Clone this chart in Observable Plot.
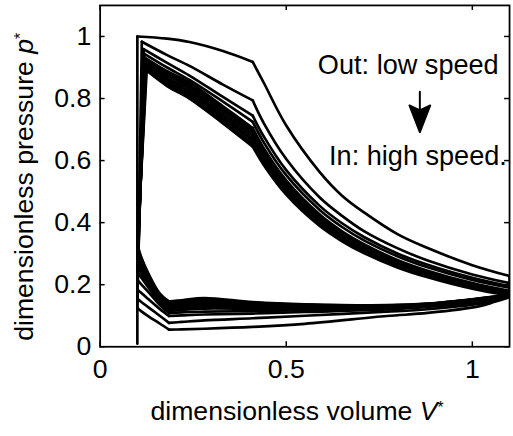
<!DOCTYPE html>
<html><head><meta charset="utf-8">
<script src="https://cdn.jsdelivr.net/npm/d3@7"></script>
<script src="https://cdn.jsdelivr.net/npm/@observablehq/plot@0.6"></script>
<style>
html,body{margin:0;padding:0;background:#fff;overflow:hidden;}
#chart{width:513px;height:436px;overflow:hidden;}
svg{display:block;}
</style></head><body><div id="chart"></div>
<script>
// ---- data ----
const cycles = ["L1","L2","L3","L4","B1","B2","B3","B4","B5","B6","B7","B8"];
// rise from V = 0.1 up to the peak
const startP = [0.01, 0.125, 0.155, 0.185, 0.215, 0.24, 0.258, 0.275, 0.29, 0.303, 0.316, 0.325];
const peakV  = [0.1, 0.112, 0.117, 0.118, 0.12, 0.121, 0.121, 0.122, 0.123, 0.123, 0.124, 0.125];
const peakP  = [1.0, 0.983, 0.959, 0.945, 0.932, 0.926, 0.92, 0.913, 0.907, 0.90, 0.895, 0.89];
// top branch, peak -> kink
const topV = [0.18, 0.24, 0.33, 0.41];
const topP = [
  [0.993, 0.982, 0.953, 0.918],
  [0.94, 0.905, 0.845, 0.794],
  [0.915, 0.874, 0.805, 0.745],
  [0.90, 0.86, 0.79, 0.725],
  [0.888, 0.852, 0.775, 0.705],
  [0.881, 0.845, 0.767, 0.697],
  [0.874, 0.838, 0.759, 0.689],
  [0.866, 0.830, 0.750, 0.680],
  [0.859, 0.822, 0.742, 0.671],
  [0.852, 0.815, 0.735, 0.663],
  [0.846, 0.808, 0.727, 0.654],
  [0.840, 0.800, 0.720, 0.645]
];
// expansion branch, kink -> right end
const expV = [0.41, 0.44, 0.5, 0.59, 0.65, 0.71, 0.8, 0.88, 1.0, 1.1];
const expP = [
  [0.918, 0.85, 0.713, 0.563, 0.487, 0.432, 0.362, 0.318, 0.263, 0.228],
  [0.794, 0.72, 0.605, 0.481, 0.422, 0.372, 0.317, 0.278, 0.233, 0.205],
  [0.745, 0.677, 0.569, 0.454, 0.398, 0.353, 0.300, 0.264, 0.222, 0.195],
  [0.725, 0.658, 0.553, 0.441, 0.386, 0.342, 0.291, 0.256, 0.215, 0.19],
  [0.705, 0.639, 0.536, 0.426, 0.372, 0.330, 0.279, 0.245, 0.205, 0.180],
  [0.697, 0.632, 0.530, 0.421, 0.368, 0.326, 0.276, 0.242, 0.203, 0.178],
  [0.689, 0.624, 0.524, 0.416, 0.364, 0.323, 0.273, 0.239, 0.200, 0.176],
  [0.680, 0.616, 0.517, 0.411, 0.359, 0.318, 0.269, 0.236, 0.198, 0.174],
  [0.671, 0.608, 0.510, 0.405, 0.354, 0.314, 0.266, 0.233, 0.195, 0.171],
  [0.663, 0.601, 0.504, 0.401, 0.350, 0.310, 0.262, 0.230, 0.193, 0.169],
  [0.654, 0.593, 0.497, 0.395, 0.345, 0.306, 0.259, 0.227, 0.190, 0.167],
  [0.645, 0.585, 0.490, 0.389, 0.340, 0.301, 0.255, 0.224, 0.187, 0.165]
];
// lower branch, right end -> lower kink
const lowV = [1.1, 1.06, 1.02, 0.88, 0.77, 0.55, 0.41, 0.28, 0.22, 0.185];
const lowP = [
  [0.16, 0.145, 0.131, 0.109, 0.099, 0.074, 0.064, 0.058, 0.056, 0.055],
  [0.162, 0.15, 0.139, 0.121, 0.113, 0.10, 0.092, 0.085, 0.08, 0.077],
  [0.164, 0.154, 0.145, 0.128, 0.12, 0.112, 0.107, 0.104, 0.101, 0.099],
  [0.165, 0.156, 0.148, 0.131, 0.124, 0.118, 0.115, 0.113, 0.111, 0.108],
  [0.166, 0.157, 0.15, 0.133, 0.127, 0.121, 0.122, 0.123, 0.119, 0.115],
  [0.166, 0.158, 0.151, 0.134, 0.128, 0.124, 0.126, 0.129, 0.124, 0.12],
  [0.166, 0.159, 0.152, 0.135, 0.129, 0.127, 0.13, 0.134, 0.129, 0.125],
  [0.166, 0.16, 0.153, 0.136, 0.13, 0.13, 0.134, 0.139, 0.133, 0.129],
  [0.166, 0.16, 0.154, 0.137, 0.131, 0.132, 0.137, 0.144, 0.137, 0.133],
  [0.166, 0.161, 0.155, 0.138, 0.132, 0.134, 0.14, 0.149, 0.141, 0.137],
  [0.166, 0.161, 0.155, 0.138, 0.133, 0.136, 0.142, 0.153, 0.145, 0.142],
  [0.166, 0.162, 0.156, 0.139, 0.134, 0.137, 0.144, 0.157, 0.15, 0.146]
];
// lower-left branch, lower kink -> V = 0.1
const leftV = [0.185, 0.16, 0.13, 0.11, 0.1];
const leftP = [
  [0.055, 0.075, 0.098, 0.115, 0.125],
  [0.077, 0.10, 0.127, 0.145, 0.155],
  [0.099, 0.122, 0.153, 0.174, 0.185],
  [0.108, 0.135, 0.176, 0.202, 0.215],
  [0.115, 0.143, 0.19, 0.224, 0.24],
  [0.12, 0.149, 0.20, 0.238, 0.258],
  [0.125, 0.154, 0.208, 0.25, 0.275],
  [0.129, 0.158, 0.215, 0.262, 0.29],
  [0.133, 0.162, 0.222, 0.272, 0.303],
  [0.137, 0.166, 0.228, 0.281, 0.316],
  [0.142, 0.169, 0.232, 0.287, 0.325],
  [0.146, 0.172, 0.235, 0.29, 0.332]
];
const xTicks = [0, 0.5, 1];
const yTicks = [0, 0.2, 0.4, 0.6, 0.8, 1];
const notes = ["Out: low speed", "In: high speed."];
const noteV = [0.585, 0.615];
const noteP = [0.879, 0.587];
const arrowV = [0.859];
const arrowP = [0.822];
const xTitle = "dimensionless volume V";
const yTitle = "dimensionless pressure p";

// ---- build table ----
const rows = [];
cycles.forEach((c, i) => {
  rows.push({c, s: "rise", V: 0.1, p: startP[i]});
  rows.push({c, s: "rise", V: peakV[i], p: peakP[i]});
  rows.push({c, s: "top", V: peakV[i], p: peakP[i]});
  topV.forEach((v, j) => rows.push({c, s: "top", V: v, p: topP[i][j]}));
  expV.forEach((v, j) => rows.push({c, s: "exp", V: v, p: expP[i][j]}));
  rows.push({c, s: "drop", V: expV[expV.length - 1], p: expP[i][expV.length - 1]});
  rows.push({c, s: "drop", V: lowV[0], p: lowP[i][0]});
  lowV.forEach((v, j) => rows.push({c, s: "low", V: v, p: lowP[i][j]}));
  leftV.forEach((v, j) => rows.push({c, s: "left", V: v, p: leftP[i][j]}));
});

const font = '"Liberation Sans", Arial, Helvetica, sans-serif';
const tickLenX = 0.0133, tickLenY = 0.016;
const arrowShape = {
  draw(ctx, l) {
    ctx.moveTo(0, 0); ctx.lineTo(0, -l + 20);
    ctx.moveTo(-10.5, -l + 27); ctx.lineTo(0, -l); ctx.lineTo(10.5, -l + 27); ctx.lineTo(0, -l + 22); ctx.closePath();
  }
};

const plot = Plot.plot({
  width: 520, height: 436,
  marginLeft: 101, marginRight: 4, marginTop: 5, marginBottom: 85,
  style: {fontFamily: font, fontSize: "27px", color: "#000", background: "#fff", overflow: "visible"},
  x: {domain: [0, 1.1]},
  y: {domain: [0, 1.1]},
  marks: [
    Plot.line(rows, {x: "V", y: "p", z: d => d.c + "-" + d.s, curve: "catmull-rom",
      stroke: "#000", strokeWidth: 2.7, strokeLinejoin: "round", strokeLinecap: "round", clip: true}),
    Plot.ruleX(xTicks, {x: d => d, y1: 0, y2: tickLenY, stroke: "#000", strokeWidth: 1.5}),
    Plot.ruleX(xTicks, {x: d => d, y1: 1.1 - tickLenY, y2: 1.1, stroke: "#000", strokeWidth: 1.5}),
    Plot.ruleY(yTicks, {y: d => d, x1: 0, x2: tickLenX, stroke: "#000", strokeWidth: 1.5}),
    Plot.ruleY(yTicks, {y: d => d, x1: 1.1 - tickLenX, x2: 1.1, stroke: "#000", strokeWidth: 1.5}),
    Plot.axisX(xTicks, {tickSize: 0, tickPadding: 12, tickFormat: d => String(d), label: null, fill: "#000"}),
    Plot.axisY(yTicks, {tickSize: 0, tickPadding: 9, tickFormat: d => String(d), label: null, fill: "#000"}),
    Plot.frame({stroke: "#000", strokeWidth: 1.8}),
    Plot.text(notes, {x: (d, i) => noteV[i], y: (d, i) => noteP[i], text: d => d,
      textAnchor: "start", lineAnchor: "bottom", fontSize: 27.5, fill: "#000"}),
    Plot.vector(arrowV, {x: d => d, y: (d, i) => arrowP[i], length: 41, rotate: 180, anchor: "start",
      shape: arrowShape, stroke: "#000", fill: "#000", strokeWidth: 2}),
    Plot.text([xTitle], {frameAnchor: "bottom-left", dx: 51, dy: 74, text: d => d,
      textAnchor: "start", lineAnchor: "bottom", fontSize: 27, fill: "#000"}),
    Plot.text([yTitle], {frameAnchor: "bottom-left", dx: -68, dy: -6, text: d => d, rotate: -90,
      textAnchor: "start", lineAnchor: "bottom", fontSize: 27, fill: "#000"})
  ]
});

// italic symbol and superscript asterisk in the axis titles
function styleTitle(str) {
  plot.querySelectorAll("text").forEach(t => {
    if (t.textContent === str) {
      const head = str.slice(0, -1), sym = str.slice(-1);
      t.textContent = "";
      const ns = "http://www.w3.org/2000/svg";
      const a = document.createElementNS(ns, "tspan"); a.textContent = head; t.appendChild(a);
      const b = document.createElementNS(ns, "tspan"); b.textContent = sym; b.setAttribute("font-style", "italic"); t.appendChild(b);
      const c = document.createElementNS(ns, "tspan"); c.textContent = "*"; c.setAttribute("font-size", "16"); c.setAttribute("dy", "-7"); t.appendChild(c);
    }
  });
}
styleTitle(xTitle);
styleTitle(yTitle);
document.getElementById("chart").appendChild(plot);
</script></body></html>
